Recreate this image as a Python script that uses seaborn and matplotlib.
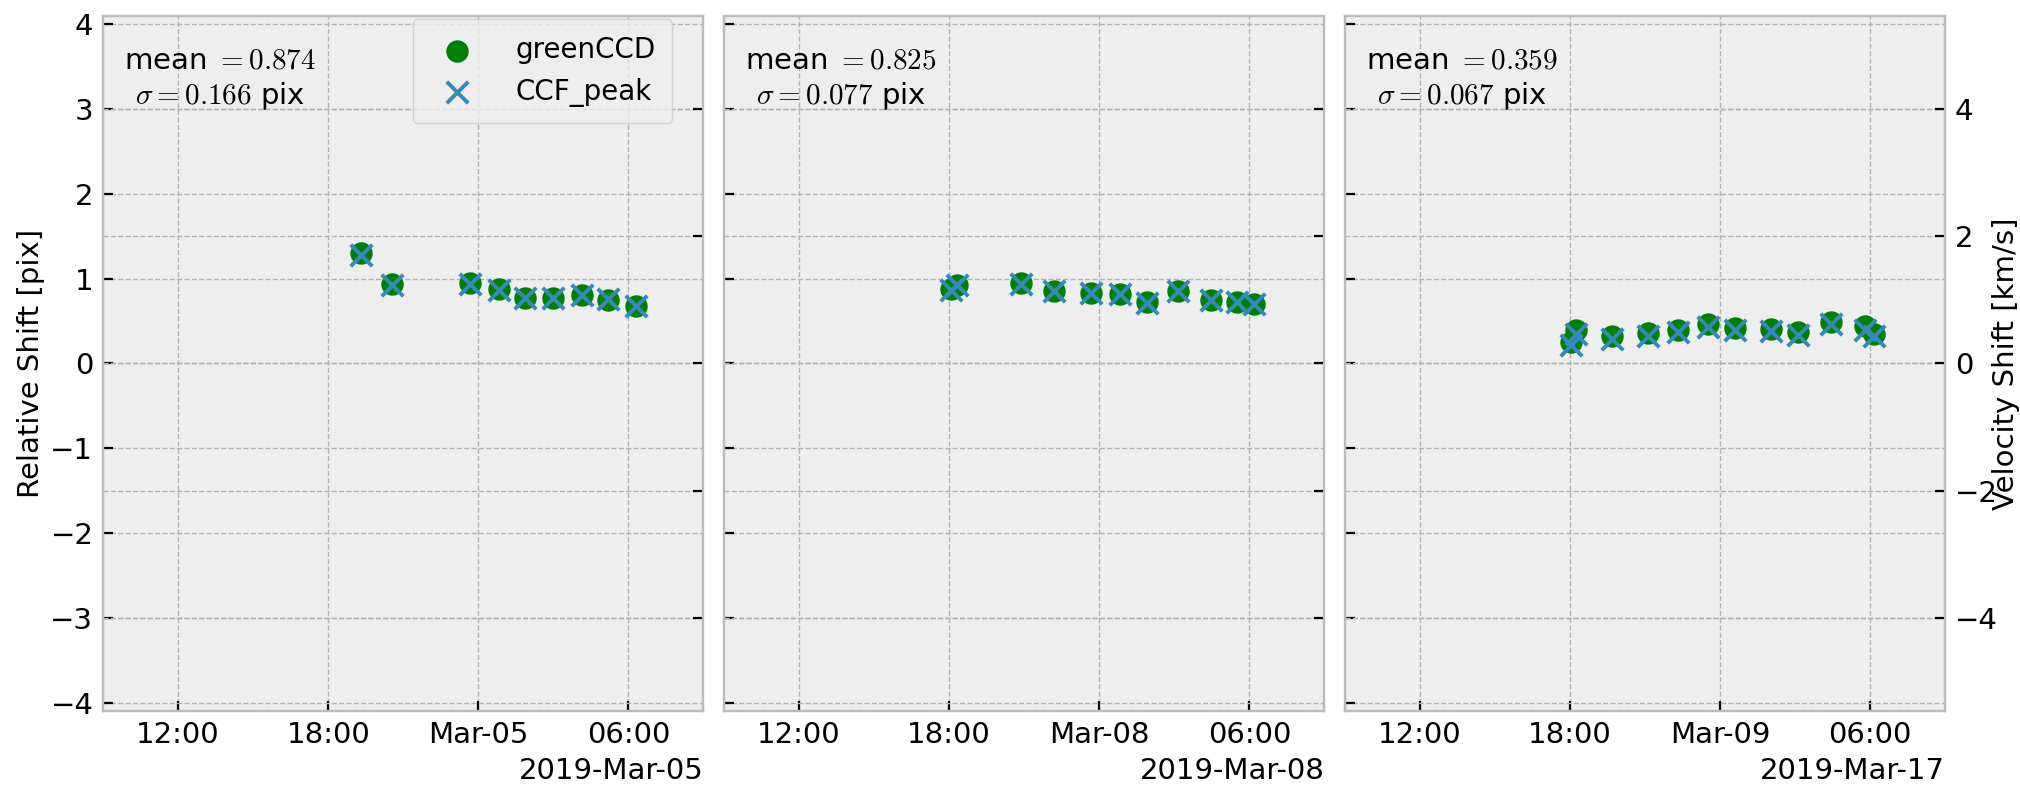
import pandas as pd
import matplotlib.pyplot as plt
import matplotlib.dates as mdates
from matplotlib.ticker import MultipleLocator
import seaborn as sns

plt.style.use("bmh")
plt.rcParams["font.family"] = ["DejaVu Sans"]
plt.rcParams["font.size"] = 10.5
plt.rcParams["axes.labelsize"] = 10.5
plt.rcParams["mathtext.fontset"] = "cm"

# === Data ===
times_mar05 = ["2019-03-04 19:19", "2019-03-04 20:33", "2019-03-04 23:39",
               "2019-03-05 00:50", "2019-03-05 01:52", "2019-03-05 02:58",
               "2019-03-05 04:08", "2019-03-05 05:10", "2019-03-05 06:17"]
green_mar05 = [1.30, 0.94, 0.95, 0.88, 0.77, 0.77, 0.81, 0.75, 0.68]
ccf_mar05 = [1.28, 0.93, 0.94, 0.87, 0.77, 0.77, 0.81, 0.76, 0.68]

times_mar08 = ["2019-03-07 18:05", "2019-03-07 18:20", "2019-03-07 20:52",
               "2019-03-07 22:12", "2019-03-07 23:40", "2019-03-08 00:50",
               "2019-03-08 01:54", "2019-03-08 03:10", "2019-03-08 04:27",
               "2019-03-08 05:31", "2019-03-08 06:12"]
green_mar08 = [0.88, 0.93, 0.95, 0.85, 0.83, 0.82, 0.72, 0.86, 0.75, 0.73, 0.70]
ccf_mar08 = [0.87, 0.92, 0.94, 0.85, 0.83, 0.82, 0.71, 0.85, 0.75, 0.73, 0.70]

times_mar09 = ["2019-03-08 18:02", "2019-03-08 18:14", "2019-03-08 19:41",
               "2019-03-08 21:08", "2019-03-08 22:20", "2019-03-08 23:30",
               "2019-03-09 00:35", "2019-03-09 02:03", "2019-03-09 03:07",
               "2019-03-09 04:26", "2019-03-09 05:47", "2019-03-09 06:08"]
green_mar09 = [0.25, 0.39, 0.32, 0.36, 0.40, 0.46, 0.42, 0.41, 0.37, 0.49, 0.44, 0.35]
ccf_mar09 = [0.22, 0.35, 0.29, 0.32, 0.37, 0.43, 0.39, 0.38, 0.34, 0.47, 0.40, 0.32]

window_start = ["2019-03-04 09:00", "2019-03-07 09:00", "2019-03-08 09:00"]
mean_labels = ["0.874", "0.825", "0.359"]
sigma_labels = ["0.166", "0.077", "0.067"]
offset_labels = ["2019-Mar-05", "2019-Mar-08", "2019-Mar-17"]

PIX_TO_KMS = 4 / 3
YLIM = (-4.1, 4.1)

panels = [
    (times_mar05, green_mar05, ccf_mar05),
    (times_mar08, green_mar08, ccf_mar08),
    (times_mar09, green_mar09, ccf_mar09),
]

fig, axs = plt.subplots(1, 3, figsize=(10.1, 3.925), dpi=200, sharey=True)
fig.subplots_adjust(left=0.051, right=0.963, bottom=0.094, top=0.98, wspace=0.034)

for i, (ax, (times, green, ccf)) in enumerate(zip(axs, panels)):
    t = pd.to_datetime(times)
    sns.scatterplot(x=t, y=green, ax=ax, color="green", marker="o", s=65,
                    linewidth=0, label="greenCCD", zorder=3)
    sns.scatterplot(x=t, y=ccf, ax=ax, color="#348ABD", marker="x", s=60,
                    linewidth=1.4, label="CCF_peak", zorder=4)
    if ax.get_legend() is not None:
        ax.get_legend().remove()

    start = pd.Timestamp(window_start[i])
    ax.set_xlim(start, start + pd.Timedelta(hours=24))
    locator = mdates.HourLocator(byhour=[0, 6, 12, 18])
    formatter = mdates.ConciseDateFormatter(
        locator,
        offset_formats=["", "%Y", "%Y-%b", offset_labels[i], offset_labels[i], "%Y-%b-%d %H:%M"],
    )
    ax.xaxis.set_major_locator(locator)
    ax.xaxis.set_major_formatter(formatter)
    ax.set_xlabel("")
    ax.set_ylim(*YLIM)
    ax.yaxis.set_major_locator(MultipleLocator(1))

    ax.text(0.035, 0.955, f"mean $={mean_labels[i]}$\n$\\sigma={sigma_labels[i]}$ pix",
            transform=ax.transAxes, ha="left", va="top", multialignment="center")

    # velocity axis on the right
    tw = ax.twinx()
    tw.set_ylim(YLIM[0] * PIX_TO_KMS, YLIM[1] * PIX_TO_KMS)
    tw.yaxis.set_major_locator(MultipleLocator(2))
    tw.xaxis.grid(False)
    if i < 2:
        tw.tick_params(labelright=False)
    else:
        tw.set_ylabel("Velocity Shift [km/s]", labelpad=-2)

    if i == 0:
        handles, labels = ax.get_legend_handles_labels()
        tw.legend(handles, labels, loc="upper right", bbox_to_anchor=(0.948, 0.995),
                  borderaxespad=0, fontsize=10, handletextpad=1.1, borderpad=0.6)

axs[0].set_ylabel("Relative Shift [pix]", labelpad=2)

plt.savefig("out.png", dpi=200)
